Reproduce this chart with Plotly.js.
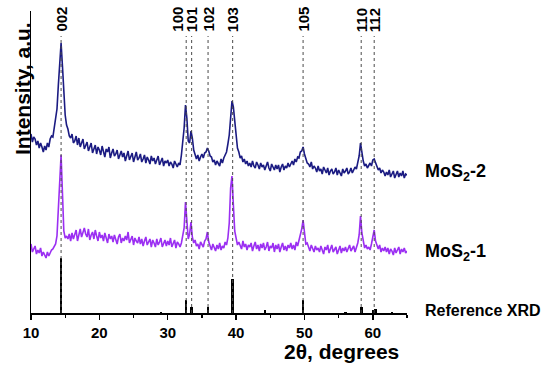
<!DOCTYPE html>
<html>
<head>
<meta charset="utf-8">
<script src="https://cdn.plot.ly/plotly-3.0.1.min.js"></script>
<style>html,body{margin:0;padding:0;background:#fff;}#chart{width:550px;height:369px;}</style>
</head>
<body>
<div id="chart"></div>
<script>
// 2-theta sampling grid: 10.0 .. 65.0 in 0.2 degree steps
const thetaStart = 10.0, thetaStep = 0.2;

// MoS2-2 intensity (a.u.), one row = 10 samples (2 degrees)
const mos2_2 = [
  179,171,176,174,168,172,165,170,166,161,
  167,163,170,166,174,177,176,185,193,204,
  228,252,270,247,218,198,188,184,177,175,
  179,170,172,177,168,175,166,170,174,164,
  168,171,162,166,170,160,164,168,159,166,
  163,158,167,160,156,164,161,166,155,160,
  164,157,159,163,154,158,162,156,160,152,
  158,162,153,156,160,151,157,161,153,155,
  159,151,154,158,150,156,153,149,157,152,
  155,149,153,157,148,151,155,147,152,150,
  153,147,151,149,145,152,148,146,150,148,
  158,170,185,208,195,172,170,182,175,163,
  157,154,158,152,156,159,155,160,161,165,
  162,157,156,151,153,148,152,150,147,154,
  150,155,159,161,169,178,195,212,206,190,
  176,165,161,155,157,151,154,149,152,147,
  150,146,152,147,145,151,148,144,150,146,
  148,143,147,151,145,142,149,146,143,148,
  144,148,141,146,149,143,147,145,150,146,
  149,152,148,154,151,156,155,161,162,166,
  159,155,150,149,146,151,144,147,145,141,
  147,142,144,139,146,143,140,145,138,142,
  144,139,141,145,138,143,140,137,144,140,
  142,145,139,141,145,140,143,146,144,150,
  157,170,159,152,147,149,145,148,150,147,
  153,154,150,148,143,145,140,143,141,137,
  141,138,143,136,140,142,135,139,142,136,
  140,137,142,135,139,138
];

// MoS2-1 intensity (a.u.)
const mos2_1 = [
  69,61,64,67,59,63,60,65,57,61,
  58,55,61,57,60,63,64,67,69,77,
  100,135,158,120,82,75,77,74,79,72,
  80,74,78,83,72,79,84,76,81,85,
  79,76,84,73,78,81,74,83,77,72,
  81,75,78,72,80,76,70,79,74,77,
  71,78,74,69,76,79,70,75,72,77,
  73,81,70,74,77,68,75,72,70,76,
  69,74,67,72,76,68,71,74,66,73,
  70,66,74,68,71,75,66,70,73,67,
  72,68,75,66,70,73,65,71,69,66,
  70,76,85,111,92,74,79,91,76,70,
  73,67,69,64,71,68,66,72,74,81,
  71,67,63,69,65,62,68,64,70,63,
  67,65,71,68,75,90,125,137,108,82,
  75,68,71,67,64,72,66,69,63,68,
  66,70,62,67,71,64,68,62,69,65,
  70,63,66,71,62,67,65,70,61,68,
  64,69,61,66,70,63,67,62,68,65,
  70,64,68,63,71,67,72,77,84,93,
  77,69,70,65,62,68,64,61,67,63,
  65,61,67,62,59,66,63,68,60,64,
  68,61,63,66,59,64,67,60,65,62,
  66,61,64,68,62,65,67,61,66,70,
  78,97,80,71,65,68,64,66,63,69,
  75,83,72,67,64,68,61,65,62,66,
  61,65,59,64,62,58,65,60,63,66,
  59,64,61,65,60,62
];

// Reference XRD stick pattern
const refPos = [14.4, 29.0, 32.7, 33.5, 35.9, 39.5, 44.2, 49.8, 56.0, 58.3, 60.1, 60.4, 62.8];
const refInt = [55, 1, 13, 6, 6, 34, 3, 13, 1.5, 6, 3, 4, 1];

// Indexed reflections
const hklPos = [14.4, 32.7, 33.5, 35.9, 39.5, 49.8, 58.3, 60.2];
const hklLabel = ["002", "100", "101", "102", "103", "105", "110", "112"];

// X tick labels
const xTicks = [10, 20, 30, 40, 50, 60];

const theta = mos2_2.map((_, i) => +(thetaStart + thetaStep * i).toFixed(1));

const FONT = "Arial, 'Liberation Sans', sans-serif";
const navy = "#1b1b82";
const purple = "#9b2ff2";

// dashed guide lines
const dashX = [], dashY = [];
hklPos.forEach(p => { dashX.push(p, p, null); dashY.push(0, 277, null); });

const traces = [
  {type: "bar", x: refPos, y: refInt, width: 0.38, marker: {color: "#000", line: {width: 0}}, hoverinfo: "skip"},
  {type: "scatter", mode: "lines", x: theta, y: mos2_2, line: {color: navy, width: 1.6}},
  {type: "scatter", mode: "lines", x: theta, y: mos2_1, line: {color: purple, width: 1.6}},
  {type: "scatter", mode: "lines", x: dashX, y: dashY, connectgaps: false,
   line: {color: "#4a4a4a", width: 1, dash: "3px,3px"}}
];

const annotations = hklLabel.map((t, i) => ({
  text: t, x: hklPos[i], xref: "x", y: 279, yref: "y",
  xanchor: "center", yanchor: "bottom", textangle: -90, showarrow: false,
  xshift: t === "100" ? -9 : 0,
  font: {family: FONT, size: 15, weight: "bold", color: "#000"}
}));

annotations.push(
  {text: "MoS<sub>2</sub>-2", xref: "paper", x: 1.042, yref: "y", y: 141, xanchor: "left", yanchor: "middle",
   showarrow: false, font: {family: FONT, size: 18, weight: "bold", color: "#000"}},
  {text: "MoS<sub>2</sub>-1", xref: "paper", x: 1.042, yref: "y", y: 61, xanchor: "left", yanchor: "middle",
   showarrow: false, font: {family: FONT, size: 18, weight: "bold", color: "#000"}},
  {text: "Reference XRD", xref: "paper", x: 1.042, yref: "y", y: 3, xanchor: "left", yanchor: "middle",
   showarrow: false, font: {family: FONT, size: 16, weight: "bold", color: "#000"}},
  {text: "2θ, degrees", xref: "paper", x: 0.827, yref: "paper", y: -0.129, xanchor: "center", yanchor: "middle",
   showarrow: false, font: {family: FONT, size: 21, weight: "bold", color: "#000"}},
  {text: "Intensity, a.u.", xref: "paper", x: -0.024, yref: "y", y: 225, xanchor: "center", yanchor: "middle",
   textangle: -90, showarrow: false, font: {family: FONT, size: 21, weight: "bold", color: "#000"}}
);

const layout = {
  width: 550, height: 369,
  margin: {l: 31, r: 143, t: 11, b: 56, pad: 0},
  paper_bgcolor: "#fff", plot_bgcolor: "#fff",
  showlegend: false,
  bargap: 0,
  xaxis: {
    range: [10, 65], showgrid: false, zeroline: false,
    showline: true, linecolor: "#000", linewidth: 1.5,
    ticks: "outside", ticklen: 5, tickwidth: 1.5, tickcolor: "#000",
    tickvals: xTicks, ticktext: xTicks.map(String),
    tickfont: {family: FONT, size: 15, weight: "bold", color: "#000"},
    minor: {dtick: 5, tick0: 15, ticks: "outside", ticklen: 3, tickwidth: 1.2, tickcolor: "#000", showgrid: false}
  },
  yaxis: {
    range: [0, 302], showgrid: false, zeroline: false,
    showline: true, linecolor: "#000", linewidth: 1.5,
    ticks: "", showticklabels: false
  },
  annotations: annotations
};

Plotly.newPlot("chart", traces, layout, {staticPlot: true, displayModeBar: false});
</script>
</body>
</html>
